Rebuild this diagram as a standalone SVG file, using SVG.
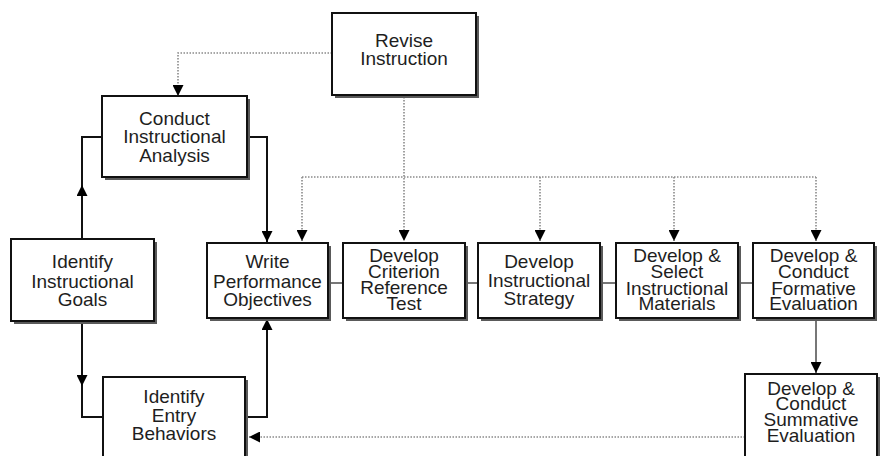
<svg xmlns="http://www.w3.org/2000/svg" width="880" height="456" viewBox="0 0 880 456">
  <style>
    .box { fill: #ffffff; stroke: #111111; stroke-width: 2; }
    .shadow { fill: #5a5a5a; }
    .lbl { font-family: "Liberation Sans", Arial, sans-serif; font-size: 19px; fill: #1e1e1e; text-anchor: middle; }
    .solid { fill: none; stroke: #111111; stroke-width: 2; }
    .link { fill: none; stroke: #777777; stroke-width: 2; }
    .dot { fill: none; stroke: #8a8a8a; stroke-width: 1.6; stroke-dasharray: 1.5 1.5; }
  </style>
  <defs>
    <marker id="head" viewBox="0 0 10 10" refX="10" refY="5" markerWidth="11" markerHeight="11" markerUnits="userSpaceOnUse" orient="auto">
      <path d="M0,0 L10,5 L0,10 z" fill="#000000"/>
    </marker>
  </defs>
  <rect width="880" height="456" fill="#ffffff"/>

  <!-- connectors -->
  <g id="connectors">
    <!-- feedback from revision (dotted) -->
    <path class="dot" d="M332,53 H178 V85"/>
    <path class="dot" d="M178,85 V96" marker-end="url(#head)"/>
    <path class="dot" d="M404,97 V241" marker-end="url(#head)"/>
    <path class="dot" d="M302,177 H816"/>
    <path class="dot" d="M302,177 V241" marker-end="url(#head)"/>
    <path class="dot" d="M540,177 V241" marker-end="url(#head)"/>
    <path class="dot" d="M674,177 V241" marker-end="url(#head)"/>
    <path class="dot" d="M816,177 V241" marker-end="url(#head)"/>
    <path class="dot" d="M745,437 H249" marker-end="url(#head)"/>

    <!-- goals to analysis -->
    <path class="solid" d="M82,239 V137 H102"/>
    <path class="solid" d="M82,200 V185" marker-end="url(#head)"/>
    <!-- analysis to objectives -->
    <path class="solid" d="M247,137 H267 V242" marker-end="url(#head)"/>
    <!-- goals to entry behaviors -->
    <path class="solid" d="M82,321 V417 H103"/>
    <path class="solid" d="M82,370 V386" marker-end="url(#head)"/>
    <!-- entry behaviors to objectives -->
    <path class="solid" d="M245,417 H267 V319" marker-end="url(#head)"/>

    <!-- sequence links -->
    <path class="link" d="M329,283 H343"/>
    <path class="link" d="M466,283 H478"/>
    <path class="link" d="M601,283 H616"/>
    <path class="link" d="M739,283 H753"/>
    <path class="link" d="M816,320 V373" marker-end="url(#head)"/>
  </g>

  <g id="revise">
    <rect class="shadow" x="335" y="16" width="144" height="82"/>
    <rect class="box" x="332" y="13" width="144" height="82"/>
    <text class="lbl" x="404" y="47">Revise</text>
    <text class="lbl" x="404" y="65">Instruction</text>
  </g>

  <g id="analysis">
    <rect class="shadow" x="105" y="99" width="145" height="81"/>
    <rect class="box" x="102" y="96" width="145" height="81"/>
    <text class="lbl" x="174.5" y="125">Conduct</text>
    <text class="lbl" x="174.5" y="143">Instructional</text>
    <text class="lbl" x="174.5" y="162">Analysis</text>
  </g>

  <g id="goals">
    <rect class="shadow" x="14" y="242" width="143" height="82"/>
    <rect class="box" x="11" y="239" width="143" height="82"/>
    <text class="lbl" x="82.5" y="268">Identify</text>
    <text class="lbl" x="82.5" y="288">Instructional</text>
    <text class="lbl" x="82.5" y="306">Goals</text>
  </g>

  <g id="objectives">
    <rect class="shadow" x="210" y="246" width="121" height="75"/>
    <rect class="box" x="207" y="243" width="121" height="75"/>
    <text class="lbl" x="267.5" y="268">Write</text>
    <text class="lbl" x="267.5" y="288">Performance</text>
    <text class="lbl" x="267.5" y="306">Objectives</text>
  </g>

  <g id="criterion">
    <rect class="shadow" x="346" y="246" width="122" height="75"/>
    <rect class="box" x="343" y="243" width="122" height="75"/>
    <text class="lbl" x="404" y="262">Develop</text>
    <text class="lbl" x="404" y="278">Criterion</text>
    <text class="lbl" x="404" y="294">Reference</text>
    <text class="lbl" x="404" y="310">Test</text>
  </g>

  <g id="strategy">
    <rect class="shadow" x="481" y="246" width="122" height="75"/>
    <rect class="box" x="478" y="243" width="122" height="75"/>
    <text class="lbl" x="539" y="268">Develop</text>
    <text class="lbl" x="539" y="287">Instructional</text>
    <text class="lbl" x="539" y="305">Strategy</text>
  </g>

  <g id="materials">
    <rect class="shadow" x="619" y="246" width="122" height="75"/>
    <rect class="box" x="616" y="243" width="122" height="75"/>
    <text class="lbl" x="677" y="262">Develop &amp;</text>
    <text class="lbl" x="677" y="278">Select</text>
    <text class="lbl" x="677" y="295">Instructional</text>
    <text class="lbl" x="677" y="310">Materials</text>
  </g>

  <g id="formative">
    <rect class="shadow" x="756" y="246" width="121" height="75"/>
    <rect class="box" x="753" y="243" width="121" height="75"/>
    <text class="lbl" x="813.5" y="262">Develop &amp;</text>
    <text class="lbl" x="813.5" y="278">Conduct</text>
    <text class="lbl" x="813.5" y="295">Formative</text>
    <text class="lbl" x="813.5" y="310">Evaluation</text>
  </g>

  <g id="entry">
    <rect class="shadow" x="106" y="380" width="142" height="90"/>
    <rect class="box" x="103" y="377" width="142" height="90"/>
    <text class="lbl" x="174" y="403">Identify</text>
    <text class="lbl" x="174" y="422">Entry</text>
    <text class="lbl" x="174" y="440">Behaviors</text>
  </g>

  <g id="summative">
    <rect class="shadow" x="748" y="377" width="132" height="90"/>
    <rect class="box" x="745" y="374" width="132" height="90"/>
    <text class="lbl" x="811" y="395">Develop &amp;</text>
    <text class="lbl" x="811" y="410">Conduct</text>
    <text class="lbl" x="811" y="426">Summative</text>
    <text class="lbl" x="811" y="442">Evaluation</text>
  </g>
</svg>
